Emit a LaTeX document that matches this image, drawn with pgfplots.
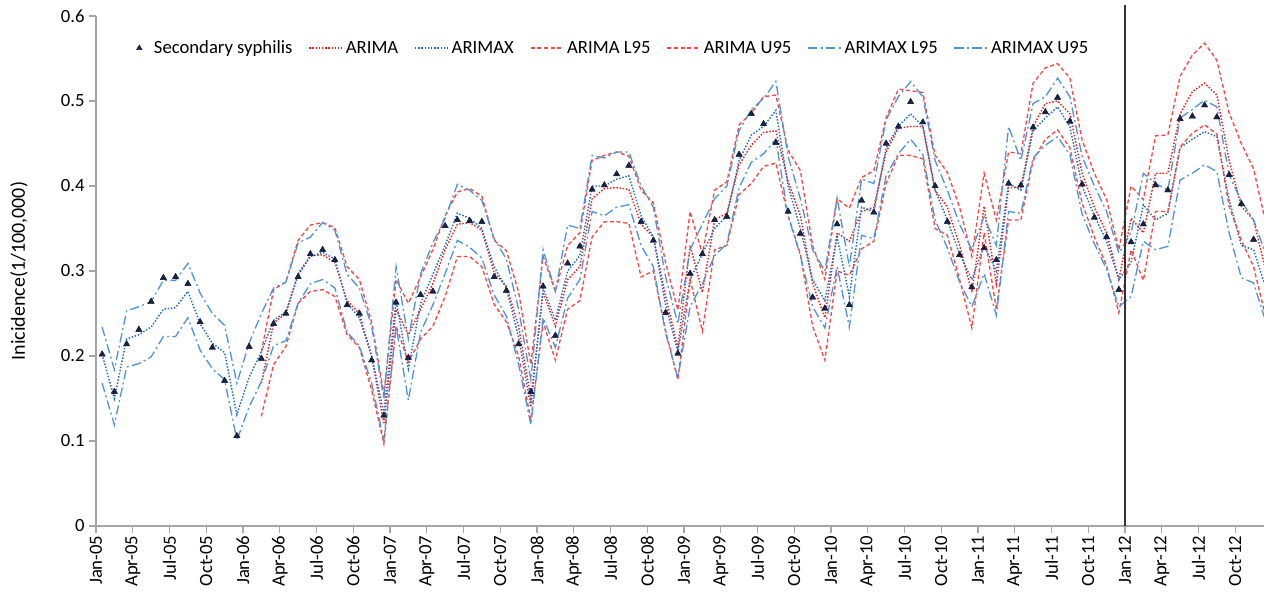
\documentclass[border=0pt]{standalone}
\usepackage{fontspec}
\setmainfont{Carlito}
\usepackage{pgfplots}
\usepackage{pgfplotstable}
\pgfplotsset{compat=1.18}
\usetikzlibrary{calc}
\definecolor{obsc}{RGB}{25,35,65}
\definecolor{ared}{RGB}{240,30,30}
\definecolor{abred}{RGB}{250,70,70}
\definecolor{xblue}{RGB}{30,110,190}
\definecolor{xbblue}{RGB}{80,150,215}
\definecolor{axgray}{RGB}{165,165,165}
\pgfplotsset{shortline/.style={legend image code/.code={\draw[##1] (0pt,0pt) -- (25pt,0pt);}},
  markleg/.style={legend image code/.code={\path[draw=none] (0pt,0pt) rectangle (12pt,0.1pt);\draw[##1] plot[only marks] coordinates {(3pt,0pt)};}}}

\pgfplotstableread{
i obs xm xl xu
0 0.202 0.202 0.168 0.234
1 0.158 0.150 0.119 0.184
2 0.214 0.220 0.187 0.253
3 0.231 0.225 0.191 0.258
4 0.264 0.234 0.199 0.264
5 0.292 0.255 0.223 0.289
6 0.293 0.257 0.223 0.289
7 0.285 0.276 0.245 0.309
8 0.240 0.238 0.207 0.274
9 0.210 0.215 0.185 0.250
10 0.171 0.204 0.172 0.236
11 0.106 0.131 0.101 0.168
12 0.211 0.175 0.140 0.215
13 0.197 0.205 0.170 0.250
14 0.238 0.242 0.212 0.280
15 0.250 0.252 0.218 0.287
16 0.293 0.295 0.262 0.333
17 0.320 0.317 0.285 0.340
18 0.325 0.322 0.290 0.357
19 0.313 0.314 0.280 0.348
20 0.260 0.262 0.228 0.296
21 0.250 0.245 0.212 0.280
22 0.195 0.200 0.168 0.235
23 0.130 0.133 0.101 0.150
24 0.263 0.265 0.235 0.305
25 0.198 0.185 0.148 0.220
26 0.272 0.262 0.228 0.297
27 0.276 0.296 0.260 0.333
28 0.353 0.330 0.297 0.362
29 0.360 0.368 0.336 0.402
30 0.359 0.362 0.328 0.395
31 0.358 0.350 0.315 0.383
32 0.293 0.305 0.272 0.338
33 0.277 0.280 0.247 0.314
34 0.214 0.222 0.190 0.255
35 0.158 0.140 0.119 0.172
36 0.282 0.280 0.245 0.325
37 0.224 0.242 0.210 0.276
38 0.309 0.300 0.268 0.354
39 0.329 0.318 0.290 0.350
40 0.396 0.400 0.370 0.436
41 0.401 0.400 0.365 0.433
42 0.414 0.408 0.375 0.440
43 0.424 0.412 0.378 0.440
44 0.358 0.365 0.330 0.400
45 0.336 0.340 0.305 0.375
46 0.251 0.260 0.227 0.293
47 0.203 0.205 0.174 0.238
48 0.297 0.290 0.258 0.325
49 0.320 0.320 0.285 0.355
50 0.360 0.350 0.318 0.385
51 0.364 0.365 0.332 0.400
52 0.437 0.430 0.398 0.465
53 0.485 0.460 0.428 0.490
54 0.473 0.470 0.438 0.503
55 0.451 0.489 0.455 0.523
56 0.370 0.400 0.365 0.435
57 0.344 0.350 0.318 0.385
58 0.269 0.290 0.258 0.325
59 0.256 0.265 0.233 0.300
60 0.355 0.340 0.305 0.386
61 0.260 0.270 0.234 0.305
62 0.383 0.375 0.342 0.408
63 0.369 0.370 0.338 0.403
64 0.450 0.445 0.412 0.478
65 0.470 0.470 0.438 0.505
66 0.499 0.485 0.455 0.523
67 0.475 0.470 0.437 0.505
68 0.400 0.395 0.360 0.430
69 0.358 0.360 0.327 0.395
70 0.319 0.320 0.287 0.355
71 0.281 0.290 0.258 0.325
72 0.327 0.330 0.297 0.364
73 0.313 0.300 0.248 0.330
74 0.403 0.403 0.370 0.470
75 0.401 0.395 0.368 0.430
76 0.469 0.465 0.433 0.497
77 0.487 0.480 0.448 0.505
78 0.504 0.493 0.458 0.527
79 0.476 0.470 0.437 0.505
80 0.402 0.400 0.367 0.435
81 0.363 0.365 0.332 0.400
82 0.340 0.335 0.302 0.370
83 0.278 0.290 0.258 0.321
84 0.334 0.310 0.270 0.345
85 0.355 0.378 0.335 0.415
86 0.401 0.360 0.325 0.403
87 0.395 0.368 0.329 0.395
88 0.479 0.445 0.407 0.480
89 0.482 0.455 0.415 0.490
90 0.495 0.464 0.425 0.501
91 0.481 0.458 0.417 0.493
92 0.413 0.384 0.345 0.413
93 0.379 0.330 0.292 0.382
94 0.337 0.325 0.286 0.360
95 0.300 0.280 0.240 0.320
}\tabA

\pgfplotstableread{
i am al au
13 0.168 0.129 0.205
14 0.239 0.190 0.278
15 0.250 0.211 0.287
16 0.297 0.262 0.336
17 0.318 0.276 0.354
18 0.319 0.278 0.357
19 0.310 0.270 0.351
20 0.265 0.225 0.305
21 0.250 0.210 0.290
22 0.200 0.160 0.240
23 0.120 0.097 0.155
24 0.255 0.235 0.290
25 0.225 0.193 0.262
26 0.255 0.220 0.293
27 0.285 0.235 0.325
28 0.325 0.270 0.365
29 0.355 0.317 0.393
30 0.357 0.317 0.397
31 0.348 0.305 0.388
32 0.298 0.261 0.336
33 0.282 0.240 0.324
34 0.235 0.200 0.275
35 0.150 0.125 0.190
36 0.275 0.240 0.317
37 0.235 0.195 0.276
38 0.290 0.255 0.330
39 0.305 0.265 0.345
40 0.385 0.340 0.430
41 0.397 0.358 0.436
42 0.398 0.358 0.440
43 0.396 0.356 0.435
44 0.355 0.293 0.395
45 0.340 0.300 0.380
46 0.270 0.230 0.310
47 0.210 0.172 0.254
48 0.330 0.290 0.370
49 0.275 0.229 0.320
50 0.360 0.325 0.395
51 0.368 0.330 0.405
52 0.425 0.390 0.472
53 0.448 0.403 0.486
54 0.463 0.423 0.505
55 0.465 0.427 0.507
56 0.405 0.365 0.442
57 0.365 0.320 0.418
58 0.285 0.235 0.330
59 0.245 0.195 0.290
60 0.345 0.300 0.385
61 0.335 0.295 0.374
62 0.370 0.326 0.410
63 0.375 0.335 0.418
64 0.440 0.403 0.480
65 0.468 0.436 0.514
66 0.470 0.436 0.512
67 0.470 0.432 0.510
68 0.395 0.350 0.436
69 0.375 0.342 0.416
70 0.330 0.290 0.375
71 0.275 0.233 0.317
72 0.376 0.345 0.415
73 0.285 0.255 0.360
74 0.398 0.360 0.440
75 0.398 0.360 0.438
76 0.470 0.430 0.521
77 0.497 0.455 0.539
78 0.500 0.466 0.544
79 0.485 0.445 0.527
80 0.415 0.380 0.454
81 0.375 0.340 0.415
82 0.345 0.306 0.384
83 0.290 0.251 0.325
84 0.362 0.325 0.400
85 0.345 0.289 0.384
86 0.415 0.370 0.459
87 0.415 0.370 0.460
88 0.485 0.446 0.529
89 0.511 0.462 0.554
90 0.521 0.472 0.568
91 0.507 0.461 0.548
92 0.430 0.376 0.486
93 0.376 0.336 0.450
94 0.360 0.305 0.420
95 0.300 0.245 0.356
}\tabB

\begin{document}
\begin{tikzpicture}
\begin{axis}[
  scale only axis,
  width=876pt, height=382.5pt,
  xmin=-0.5, xmax=94.85,
  ymin=0, ymax=0.6,
  axis lines*=left,
  axis line style={axgray, line width=0.8pt},
  x axis line style={-}, y axis line style={-},
  xtick={-0.5,2.5,...,92.5},
  xticklabels={Jan-05,Apr-05,Jul-05,Oct-05,Jan-06,Apr-06,Jul-06,Oct-06,Jan-07,Apr-07,Jul-07,Oct-07,Jan-08,Apr-08,Jul-08,Oct-08,Jan-09,Apr-09,Jul-09,Oct-09,Jan-10,Apr-10,Jul-10,Oct-10,Jan-11,Apr-11,Jul-11,Oct-11,Jan-12,Apr-12,Jul-12,Oct-12},
  ytick={0,0.1,...,0.6},
  yticklabel style={/pgf/number format/fixed, /pgf/number format/precision=1},
  /pgf/number format/assume math mode=true,
  tick style={axgray, line width=0.8pt},
  xtick align=outside, ytick align=outside,
  major tick length=5pt,
  xticklabel style={rotate=90, anchor=east, font=\fontsize{14}{16}\selectfont, inner sep=2pt},
  yticklabel style={font=\fontsize{14}{16}\selectfont},
  ylabel={Inicidence(1/100,000)},
  every axis y label/.style={at={(axis description cs:-0.066,0.5)}, rotate=90, anchor=center, font=\fontsize{15}{17}\selectfont},
  legend columns=7,
  legend style={draw=none, fill=none, at={(axis description cs:0.030,0.937)}, anchor=west,
    font=\fontsize{14}{16}\selectfont,
    /tikz/every even column/.append style={column sep=10pt}},
  legend cell align=left,
  clip=true,
]
\addplot[markleg, only marks, mark=triangle*, mark size=2.4pt, color=obsc] table[x=i, y=obs] {\tabA};
\addlegendentry{Secondary syphilis}
\addplot[shortline, ared, line width=1.1pt, dash pattern=on 1.1pt off 1.3pt] table[x=i, y=am] {\tabB};
\addlegendentry{ARIMA}
\addplot[shortline, xblue, line width=1.1pt, dash pattern=on 1.1pt off 1.3pt] table[x=i, y=xm] {\tabA};
\addlegendentry{ARIMAX}
\addplot[shortline, abred, line width=1pt, dash pattern=on 3pt off 2pt] table[x=i, y=al] {\tabB};
\addlegendentry{ARIMA L95}
\addplot[shortline, abred, line width=1pt, dash pattern=on 3pt off 2pt] table[x=i, y=au] {\tabB};
\addlegendentry{ARIMA U95}
\addplot[shortline, xbblue, line width=1pt, dash pattern=on 7pt off 2.5pt on 1.5pt off 2.5pt] table[x=i, y=xl] {\tabA};
\addlegendentry{ARIMAX L95}
\addplot[shortline, xbblue, line width=1pt, dash pattern=on 7pt off 2.5pt on 1.5pt off 2.5pt] table[x=i, y=xu] {\tabA};
\addlegendentry{ARIMAX U95}
\addplot[only marks, mark=triangle*, mark size=2.6pt, color=obsc, forget plot] table[x=i, y=obs] {\tabA};
\coordinate (vbot) at (axis cs:83.5,0);
\coordinate (vtop) at (axis cs:83.5,0.6);
\end{axis}
\draw[black!80, line width=0.9pt] (vbot) -- ($(vtop)+(0,8.5pt)$);
\pgfresetboundingbox
\path ($(current axis.south west)+(-72pt,-49.5pt)$) rectangle ($(current axis.north east)+(0pt,12pt)$);
\end{tikzpicture}
\end{document}
